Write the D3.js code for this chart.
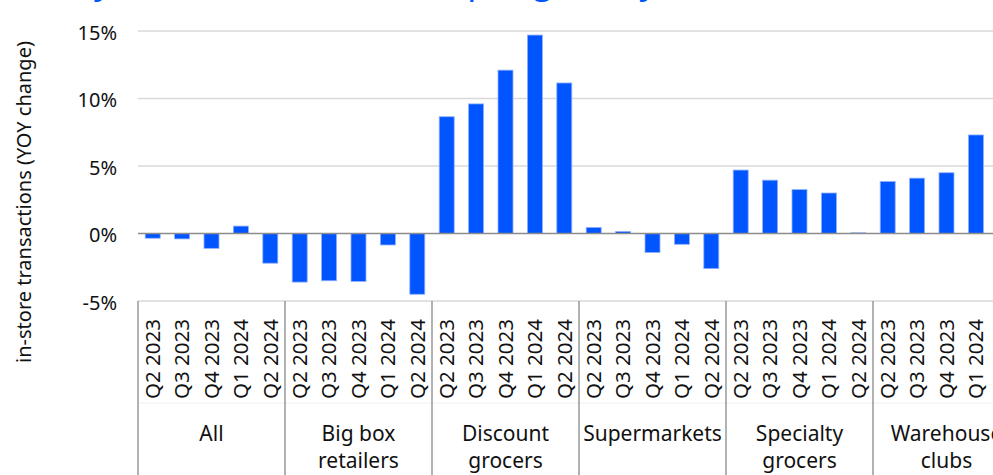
<!DOCTYPE html>
<html>
<head>
<meta charset="utf-8">
<script src="https://cdn.jsdelivr.net/npm/d3@7"></script>
<style>
  html, body { margin: 0; padding: 0; background: #fff; overflow: hidden; }
  svg { display: block; font-family: "Noto Sans", "Open Sans", sans-serif; }
</style>
</head>
<body>
<svg id="chart" width="993" height="475"></svg>
<script>
// Grocer types (outer category level) and their label lines
const groupNames = ["All", "Big box retailers", "Discount grocers", "Supermarkets", "Specialty grocers", "Warehouse clubs"];
const groupLines = [["All"], ["Big box", "retailers"], ["Discount", "grocers"], ["Supermarkets"], ["Specialty", "grocers"], ["Warehouse", "clubs"]];

// Quarters (inner category level)
const quarters = ["Q2 2023", "Q3 2023", "Q4 2023", "Q1 2024", "Q2 2024"];

// YoY change in in-store transactions, % per quarter
const allStores    = [-0.35, -0.4, -1.1, 0.55, -2.2];
const bigBox       = [-3.6, -3.5, -3.55, -0.85, -4.5];
const discount     = [8.65, 9.6, 12.1, 14.7, 11.15];
const supermarkets = [0.45, 0.15, -1.4, -0.8, -2.6];
const specialty    = [4.7, 3.95, 3.25, 3.0, 0.05];
const warehouse    = [3.85, 4.1, 4.5, 7.3, null];

const yTicks = [-5, 0, 5, 10, 15];

const seriesByGroup = [allStores, bigBox, discount, supermarkets, specialty, warehouse];
const rows = [];
groupNames.forEach((g, gi) => {
  quarters.forEach((q, qi) => {
    rows.push({ group: g, quarter: q, value: seriesByGroup[gi][qi] });
  });
});

const svg = d3.select("#chart");
const plotLeft = 138, groupW = 147, plotTop = 31, plotBottom = 301;

const x0 = d3.scaleBand().domain(groupNames).range([plotLeft, plotLeft + groupW * groupNames.length]).padding(0);
const pad = 0.49;
const x1 = d3.scaleBand().domain(quarters).range([0, x0.bandwidth()]).paddingInner(pad).paddingOuter(pad / 2);
const y = d3.scaleLinear().domain([-5, 15]).range([plotBottom, plotTop]);

const BLUE = "#0055ff";

// Title (sits mostly above the visible area)
svg.append("text")
  .attr("x", 13).attr("y", -6)
  .attr("fill", BLUE)
  .attr("font-size", 35)
  .text("Yearly in-store transactions per grocery");

// Horizontal gridlines
svg.append("g").selectAll("line")
  .data(yTicks.filter(t => t !== 0))
  .join("line")
  .attr("x1", plotLeft).attr("x2", 993)
  .attr("y1", d => y(d)).attr("y2", d => y(d))
  .attr("stroke", "#d9d9d9").attr("stroke-width", 1.5);

// Y tick labels
const yAxis = d3.axisLeft(y).tickValues(yTicks).tickSize(0).tickPadding(0).tickFormat(d => d + "%");
const yg = svg.append("g").attr("transform", `translate(117,0)`).call(yAxis);
yg.select(".domain").remove();
yg.selectAll("text")
  .attr("font-family", '"Noto Sans", sans-serif')
  .attr("font-size", 20).attr("fill", "#111").attr("dy", "0.4em");

// Y axis title
svg.append("text")
  .attr("transform", `translate(31,${(31 + 373) / 2}) rotate(-90)`)
  .attr("text-anchor", "middle")
  .attr("font-size", 20).attr("fill", "#111")
  .text("in-store transactions (YOY change)");

// Bars
svg.append("g").selectAll("rect")
  .data(rows.filter(d => d.value !== null))
  .join("rect")
  .attr("x", d => x0(d.group) + x1(d.quarter))
  .attr("width", x1.bandwidth())
  .attr("y", d => y(Math.max(0, d.value)))
  .attr("height", d => Math.abs(y(d.value) - y(0)))
  .attr("fill", BLUE)
  .attr("stroke", "#8fb0ff").attr("stroke-width", 0.8);

// Zero line
svg.append("line")
  .attr("x1", plotLeft).attr("x2", 993)
  .attr("y1", y(0)).attr("y2", y(0))
  .attr("stroke", "#8c8c8c").attr("stroke-width", 1.5);

// Faint divider between the two category levels
svg.append("line")
  .attr("x1", plotLeft).attr("x2", 993)
  .attr("y1", 403).attr("y2", 403)
  .attr("stroke", "#f0f0f0").attr("stroke-width", 1);

// Group separators on the category axis
const seps = groupNames.map(g => x0(g)).concat([x0.range()[1]]);
svg.append("g").selectAll("line")
  .data(seps)
  .join("line")
  .attr("x1", d => d).attr("x2", d => d)
  .attr("y1", plotBottom).attr("y2", 475)
  .attr("stroke", "#999").attr("stroke-width", 1.5);

// Quarter labels (rotated)
svg.append("g").selectAll("text")
  .data(rows)
  .join("text")
  .attr("transform", d => `translate(${x0(d.group) + x1(d.quarter) + x1.bandwidth() / 2},319) rotate(-90)`)
  .attr("text-anchor", "end")
  .attr("dy", "0.36em")
  .attr("font-size", 20.5).attr("fill", "#111")
  .text(d => d.quarter);

// Group labels
const gl = svg.append("g").selectAll("text")
  .data(groupNames.map((g, i) => ({ g, lines: groupLines[i] })))
  .join("text")
  .attr("text-anchor", "middle")
  .attr("font-size", 21).attr("fill", "#111");
gl.selectAll("tspan")
  .data(d => d.lines.map((l, i) => ({ l, i, cx: x0(d.g) + x0.bandwidth() / 2 })))
  .join("tspan")
  .attr("x", d => d.cx)
  .attr("y", d => 441 + d.i * 27)
  .text(d => d.l);
</script>
</body>
</html>
